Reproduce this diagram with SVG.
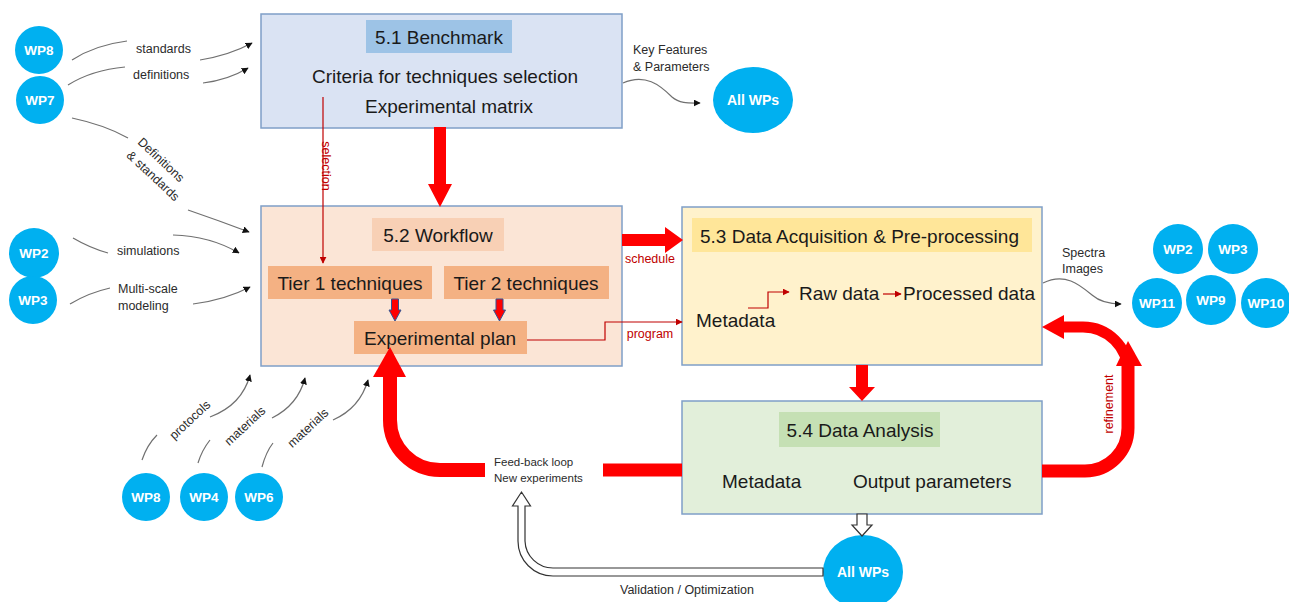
<svg xmlns="http://www.w3.org/2000/svg" width="1289" height="602" viewBox="0 0 1289 602">
<style>
.box{stroke:#7f9fc7;stroke-width:1.5}
.t{font-family:"Liberation Sans",Arial,sans-serif;font-size:19px;fill:#1a1a1a}
.s{font-family:"Liberation Sans",Arial,sans-serif;font-size:12.5px;fill:#2b2b2b}
.r{font-family:"Liberation Sans",Arial,sans-serif;font-size:12.5px;fill:#c00000}
.wp{fill:#00b0f0}
.wt{font-family:"Liberation Sans",Arial,sans-serif;font-size:13.5px;font-weight:bold;fill:#fff;text-anchor:middle}
.c{fill:none;stroke:#707070;stroke-width:1.2}
.thin{fill:none;stroke:#c00000;stroke-width:1.2}
.big{fill:#ff0000}
.hollow{fill:#fff;stroke:#333;stroke-width:1.2}
</style>
<defs>
<marker id="ah" viewBox="0 0 10 10" refX="9" refY="5" markerWidth="7" markerHeight="7" markerUnits="userSpaceOnUse" orient="auto"><path d="M0,0 L10,5 L0,10 z" fill="#111"/></marker>
<marker id="ar" viewBox="0 0 10 10" refX="9" refY="5" markerWidth="7" markerHeight="7" markerUnits="userSpaceOnUse" orient="auto"><path d="M0,0 L10,5 L0,10 z" fill="#c00000"/></marker>
</defs>

<g id="bench">
<rect class="box" x="261" y="14" width="361" height="114" fill="#dae3f3"/>
<rect x="366" y="20" width="146" height="33" fill="#9dc3e6"/>
<text class="t" x="439" y="44" text-anchor="middle">5.1 Benchmark</text>
<text class="t" x="445" y="83" text-anchor="middle">Criteria for techniques selection</text>
<text class="t" x="449" y="113" text-anchor="middle">Experimental matrix</text>
</g>

<g id="workflow">
<rect class="box" x="261" y="206" width="361" height="160" fill="#fbe5d6"/>
<rect x="372" y="218" width="132" height="33" fill="#f8cbad" opacity="0.8"/>
<text class="t" x="438" y="242" text-anchor="middle">5.2 Workflow</text>
</g>
<g id="tier1">
<rect x="268" y="266" width="164" height="33" fill="#f4b183"/>
<text class="t" x="350" y="290" text-anchor="middle">Tier 1 techniques</text>
</g>
<g id="tier2">
<rect x="444" y="266" width="165" height="33" fill="#f4b183"/>
<text class="t" x="526" y="290" text-anchor="middle">Tier 2 techniques</text>
</g>
<g id="plan">
<rect x="354" y="321" width="173" height="33" fill="#f4b183"/>
<text class="t" x="440" y="345" text-anchor="middle">Experimental plan</text>
</g>

<g id="acq">
<rect class="box" x="682" y="207" width="360" height="158" fill="#fff2cc"/>
<rect x="692" y="218" width="340" height="34" fill="#ffe699"/>
<text class="t" x="700" y="243">5.3 Data Acquisition &amp; Pre-processing</text>
<text class="t" x="696" y="327">Metadata</text>
<text class="t" x="799" y="300">Raw data</text>
<text class="t" x="903" y="300">Processed data</text>
</g>

<g id="analysis">
<rect class="box" x="682" y="401" width="360" height="113" fill="#e2efda"/>
<rect x="779" y="412" width="161" height="35" fill="#c5e0b4"/>
<text class="t" x="860" y="437" text-anchor="middle">5.4 Data Analysis</text>
<text class="t" x="722" y="488">Metadata</text>
<text class="t" x="853" y="488">Output parameters</text>
</g>

<g id="wp8a"><circle class="wp" cx="39" cy="50" r="24"/><text class="wt" x="39" y="55">WP8</text></g>
<g id="wp7a"><circle class="wp" cx="40" cy="100" r="24"/><text class="wt" x="40" y="105">WP7</text></g>
<g id="wp2a"><circle class="wp" cx="34" cy="253" r="25"/><text class="wt" x="34" y="258">WP2</text></g>
<g id="wp3a"><circle class="wp" cx="33" cy="300" r="24"/><text class="wt" x="33" y="305">WP3</text></g>
<g id="wp8b"><circle class="wp" cx="146" cy="497" r="24"/><text class="wt" x="146" y="502">WP8</text></g>
<g id="wp4"><circle class="wp" cx="204" cy="497" r="24"/><text class="wt" x="204" y="502">WP4</text></g>
<g id="wp6"><circle class="wp" cx="259" cy="497" r="24"/><text class="wt" x="259" y="502">WP6</text></g>
<g id="allwps1"><ellipse class="wp" cx="753" cy="100" rx="40" ry="33"/><text class="wt" x="753" y="105" style="font-size:14px">All WPs</text></g>
<g id="allwps2"><ellipse class="wp" cx="863" cy="572" rx="40" ry="37"/><text class="wt" x="863" y="577" style="font-size:14px">All WPs</text></g>
<g id="wp2b"><circle class="wp" cx="1178" cy="249" r="25"/><text class="wt" x="1178" y="254">WP2</text></g>
<g id="wp3b"><circle class="wp" cx="1233" cy="249" r="25"/><text class="wt" x="1233" y="254">WP3</text></g>
<g id="wp11"><circle class="wp" cx="1157" cy="303" r="25"/><text class="wt" x="1157" y="308">WP11</text></g>
<g id="wp9"><circle class="wp" cx="1211" cy="300" r="25"/><text class="wt" x="1211" y="305">WP9</text></g>
<g id="wp10"><circle class="wp" cx="1266" cy="303" r="25"/><text class="wt" x="1266" y="308">WP10</text></g>

<g id="connectors">
<path class="c" d="M72,60 Q95,45 127,41"/>
<path class="c" d="M200,60 Q230,55 252,43" marker-end="url(#ah)"/>
<text class="s" x="136" y="53">standards</text>
<path class="c" d="M68,85 Q92,70 125,67"/>
<path class="c" d="M203,83 Q228,80 248,68" marker-end="url(#ah)"/>
<text class="s" x="133" y="79">definitions</text>
<path class="c" d="M72,118 Q105,125 128,138"/>
<path class="c" d="M188,210 Q220,221 249,232" marker-end="url(#ah)"/>
<text class="s" x="161" y="164" text-anchor="middle" transform="rotate(43 161 160)">Definitions</text>
<text class="s" x="153" y="180" text-anchor="middle" transform="rotate(43 153 176)">&amp; standards</text>
<path class="c" d="M73,238 Q90,248 108,253"/>
<path class="c" d="M173,235 Q210,236 239,253" marker-end="url(#ah)"/>
<text class="s" x="117" y="255">simulations</text>
<path class="c" d="M70,304 Q88,293 110,288"/>
<path class="c" d="M193,304 Q225,300 250,287" marker-end="url(#ah)"/>
<text class="s" x="118" y="293">Multi-scale</text>
<text class="s" x="118" y="310">modeling</text>
<path class="c" d="M142,460 Q147,445 157,435"/>
<path class="c" d="M210,417 Q242,405 250,375" marker-end="url(#ah)"/>
<text class="s" x="190" y="424" text-anchor="middle" transform="rotate(-43 190 420)">protocols</text>
<path class="c" d="M198,463 Q202,450 210,440"/>
<path class="c" d="M272,418 Q298,405 305,378" marker-end="url(#ah)"/>
<text class="s" x="245" y="430" text-anchor="middle" transform="rotate(-43 245 426)">materials</text>
<path class="c" d="M262,467 Q266,452 273,443"/>
<path class="c" d="M333,420 Q360,408 368,380" marker-end="url(#ah)"/>
<text class="s" x="308" y="432" text-anchor="middle" transform="rotate(-43 308 428)">materials</text>
<text class="s" x="633" y="54">Key Features</text>
<text class="s" x="633" y="71">&amp; Parameters</text>
<path class="c" d="M623,83 C645,73 660,85 672,97 C680,104 690,103 700,103" marker-end="url(#ah)"/>
<text class="s" x="1062" y="257">Spectra</text>
<text class="s" x="1062" y="273">Images</text>
<path class="c" d="M1043,283 C1065,272 1080,285 1092,295 C1100,302 1110,304 1121,304" marker-end="url(#ah)"/>

<path class="thin" d="M323,97 V263" marker-end="url(#ar)"/>
<text class="r" x="322" y="166" text-anchor="middle" transform="rotate(90 322 166)">selection</text>
<path class="thin" d="M527,340 H605 V322 H682" marker-end="url(#ar)"/>
<text class="r" x="650" y="338" text-anchor="middle">program</text>
<text class="r" x="650" y="263" text-anchor="middle">schedule</text>
<path class="thin" d="M748,308 H768 V292 H789" marker-end="url(#ar)"/>
<path class="thin" d="M883,294 H901" marker-end="url(#ar)"/>

<path class="big" d="M434,127 H446 V184 H452 L440,207 L428,184 H434 z"/>
<path class="big" d="M622,234 H665 V227 L683,240 L665,253 V246 H622 z"/>
<path class="big" d="M856,365 H868 V387 H875 L862,401 L849,387 H856 z"/>
<path d="M391.5,299 H398.5 V310 H401 L395,321 L389,310 H391.5 z" fill="#ff0000" stroke="#2f5597" stroke-width="1"/>
<path d="M496,299 H503 V310 H505.5 L499.5,321 L493.5,310 H496 z" fill="#ff0000" stroke="#2f5597" stroke-width="1"/>
<path d="M682,470 H603" fill="none" stroke="#ff0000" stroke-width="13"/>
<path d="M485,470 H440 A50,50 0 0 1 390,420 V374" fill="none" stroke="#ff0000" stroke-width="14"/>
<path class="big" d="M373,377 L390,347 L406,377 z"/>
<text class="s" x="494" y="466" style="font-size:11.5px">Feed-back loop</text>
<text class="s" x="494" y="482" style="font-size:11.5px">New experiments</text>
<path d="M1042,471 H1085 A43,43 0 0 0 1128,428 V362" fill="none" stroke="#ff0000" stroke-width="13"/>
<path d="M1128,372 A45,45 0 0 0 1083,327 H1060" fill="none" stroke="#ff0000" stroke-width="11"/>
<path class="big" d="M1042,327 L1064,315 L1064,339 z"/>
<path class="big" d="M1116,366 L1128,341 L1142,366 z"/>
<text class="r" x="1113" y="404" text-anchor="middle" transform="rotate(-90 1113 404)">refinement</text>
<path class="hollow" d="M857,514 H867 V525 H872 L862,536 L852,525 H857 z"/>
<path class="hollow" d="M823,576 H553 A35,35 0 0 1 518,541 V506 H512.5 L521.5,492 L530.5,506 H525 V541 A28,28 0 0 0 553,568 H823 z"/>
<text class="s" x="620" y="594">Validation / Optimization</text>
</g>
</svg>
